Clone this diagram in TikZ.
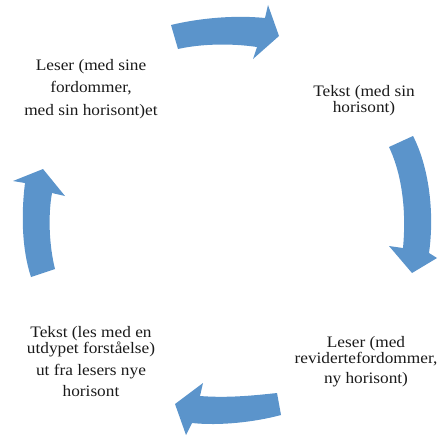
\documentclass[tikz,border=0pt]{standalone}
\usepackage{fontspec}
\setmainfont[FakeStretch=1.08]{Liberation Serif}
\definecolor{arrowblue}{RGB}{91,148,203}
\definecolor{txt}{RGB}{26,26,26}
\tikzset{
  lbl/.style={anchor=base, inner sep=0pt, text height=10.5pt, text depth=2.5pt, text=txt, font=\fontsize{16}{18}\selectfont},
  cyclearrow/.style={fill=arrowblue, draw=none}
}
\begin{document}
\begin{tikzpicture}[x=1pt,y=-1pt]
\useasboundingbox (0,0) rectangle (438,436);
% top arrow
\fill[cyclearrow] (171,25) .. controls (200,18) and (235,15) .. (265,18) -- (268,5) -- (279,36) -- (253,59) -- (257,47) .. controls (230,43) and (200,44) .. (178,49) -- cycle;
% right arrow
\fill[cyclearrow] (389,147) -- (413,136) .. controls (428,165) and (435,210) .. (429,253) -- (437,258) -- (412,273) -- (389,246) -- (403,248) .. controls (407,205) and (400,170) .. (389,147) -- cycle;
% bottom arrow
\fill[cyclearrow] (277,393) .. controls (250,396) and (225,398) .. (200,396) -- (203,383) -- (175,404) -- (186,435) -- (192,423) .. controls (220,426) and (255,422) .. (281,415) -- cycle;
% left arrow
\fill[cyclearrow] (31,277) .. controls (22,250) and (21,215) .. (25,183) -- (13,181) -- (43,169) -- (65,196) -- (52,193) .. controls (48,215) and (49,245) .. (55,269) -- cycle;
% texts
\node[lbl] (tl1) at (91,70) {Leser (med sine};
\node[lbl] (tl2) at (91,92) {fordommer,};
\node[lbl] (tl3) at (91,115) {med sin horisont)et};
\node[lbl] (tr1) at (364,96) {Tekst (med sin};
\node[lbl] (tr2) at (364,112) {horisont)};
\node[lbl] (br1) at (366,347) {Leser (med};
\node[lbl] (br2) at (366,363) {revidertefordommer,};
\node[lbl] (br3) at (366,383) {ny horisont)};
\node[lbl] (bl1) at (91,337) {Tekst (les med en};
\node[lbl] (bl2) at (91,353) {utdypet forståelse)};
\node[lbl] (bl3) at (91,375) {ut fra lesers nye};
\node[lbl] (bl4) at (91,396) {horisont};
\end{tikzpicture}
\end{document}
